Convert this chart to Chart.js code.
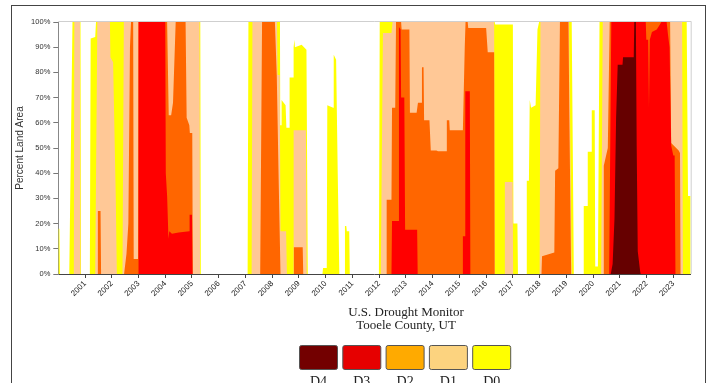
<!DOCTYPE html>
<html>
<head>
<meta charset="utf-8">
<script src="https://cdn.jsdelivr.net/npm/chart.js@4.4.1/dist/chart.umd.min.js"></script>
<style>
  html, body { margin: 0; padding: 0; background: #fff; overflow: hidden; }
  #wrap { position: relative; width: 712px; height: 383px; }
  #frame { position: absolute; left: 11px; top: 5px; width: 695px; height: 420px; box-sizing: border-box; border: 1px solid #444; }
  #chart { position: absolute; left: 0; top: 0; }
</style>
</head>
<body>
<div id="wrap">
  <div id="frame"></div>
  <canvas id="chart" width="712" height="383"></canvas>
</div>
<script>
// cumulative percent of land area, [decimal year, percent]
const d0 = [
  [2000, 18], [2000.04, 18], [2000.06, 0],
  [2000.41, 0], [2000.53, 100], [2000.83, 100], [2000.85, 0],
  [2001.18, 0], [2001.21, 93.5], [2001.38, 94], [2001.41, 100], [2005.31, 100], [2005.33, 0],
  [2007.08, 0], [2007.11, 100], [2008.29, 100], [2008.3, 59], [2008.34, 59], [2008.35, 69], [2008.5, 67],
  [2008.53, 58], [2008.63, 58], [2008.65, 78], [2008.78, 78], [2008.8, 90], [2008.83, 93], [2008.85, 90],
  [2009.1, 91], [2009.28, 89], [2009.33, 0],
  [2009.88, 0], [2009.9, 2.4], [2010.04, 2.4], [2010.06, 67], [2010.28, 66], [2010.3, 87], [2010.39, 85],
  [2010.45, 40], [2010.51, 0],
  [2010.71, 0], [2010.72, 19], [2010.77, 19], [2010.79, 17], [2010.88, 17], [2010.9, 0],
  [2011.99, 0], [2012.02, 100], [2016.32, 100], [2016.34, 99], [2017.0, 99], [2017.02, 20], [2017.17, 20], [2017.19, 0],
  [2017.5, 0], [2017.52, 37], [2017.6, 37], [2017.63, 69], [2017.68, 66], [2017.85, 67], [2017.92, 97],
  [2017.98, 100], [2019.2, 100], [2019.28, 0],
  [2019.64, 0], [2019.65, 27], [2019.78, 27], [2019.8, 48.5], [2019.93, 48.5], [2019.95, 65], [2020.06, 65],
  [2020.08, 3], [2020.18, 3], [2020.24, 100], [2023.5, 100], [2023.55, 31], [2023.65, 31]
];
const d1 = [
  [2000, 0], [2000.58, 0], [2000.6, 100], [2000.81, 100], [2000.83, 0],
  [2001.38, 0], [2001.46, 100], [2001.93, 100], [2001.95, 86], [2002.05, 84], [2002.15, 30], [2002.19, 0],
  [2002.4, 0], [2002.45, 100], [2005.28, 100], [2005.3, 0],
  [2007.23, 0], [2007.26, 100], [2008.18, 100], [2008.2, 79], [2008.28, 79], [2008.31, 17], [2008.52, 17],
  [2008.55, 0], [2008.78, 0], [2008.8, 57], [2009.26, 57], [2009.29, 0],
  [2012.06, 0], [2012.14, 95.6], [2012.46, 95.6], [2012.5, 100], [2016.3, 100], [2016.32, 0],
  [2016.68, 0], [2016.7, 36.5], [2016.99, 36.5], [2017.01, 0],
  [2018.0, 0], [2018.03, 100], [2019.1, 100], [2019.2, 0],
  [2020.3, 0], [2020.36, 100], [2023.33, 100], [2023.36, 0], [2023.65, 0]
];
const d2 = [
  [2000, 0], [2001.46, 0], [2001.48, 25], [2001.58, 25], [2001.6, 0],
  [2002.46, 0], [2002.55, 8], [2002.62, 20], [2002.68, 90], [2002.72, 100], [2002.8, 100], [2002.82, 6],
  [2002.98, 6], [2003.0, 100], [2004.07, 100], [2004.13, 63], [2004.22, 63], [2004.29, 68], [2004.39, 100],
  [2004.76, 100], [2004.8, 62], [2004.9, 59], [2004.92, 56], [2005.01, 56], [2005.03, 0],
  [2007.55, 0], [2007.62, 100], [2008.1, 100], [2008.17, 79], [2008.24, 38], [2008.31, 0],
  [2008.8, 0], [2008.81, 10.6], [2009.14, 10.6], [2009.16, 0],
  [2012.26, 0], [2012.28, 29.5], [2012.46, 29.5], [2012.48, 66], [2012.6, 66], [2012.63, 100], [2012.82, 100],
  [2012.84, 97], [2013.13, 97], [2013.15, 64], [2013.4, 64], [2013.45, 68], [2013.58, 68], [2013.6, 82],
  [2013.66, 82], [2013.68, 61], [2013.88, 61], [2013.93, 49], [2014.14, 49], [2014.2, 48.7], [2014.51, 48.7],
  [2014.53, 61], [2014.62, 61], [2014.64, 57], [2015.13, 57], [2015.2, 90], [2015.23, 100], [2015.31, 100],
  [2015.33, 97.6], [2016.0, 97.6], [2016.06, 88], [2016.3, 88], [2016.32, 0],
  [2018.07, 0], [2018.09, 7], [2018.55, 8.5], [2018.58, 41], [2018.7, 42], [2018.76, 100], [2019.08, 100],
  [2019.11, 65], [2019.18, 0],
  [2020.38, 0], [2020.4, 43], [2020.55, 50], [2020.62, 100], [2022.88, 100], [2022.92, 52], [2023.2, 49],
  [2023.25, 48], [2023.27, 0], [2023.65, 0]
];
const d3 = [
  [2000, 0], [2002.99, 0], [2003.0, 100], [2004.0, 100], [2004.02, 40], [2004.07, 31], [2004.12, 14],
  [2004.15, 17], [2004.25, 16], [2004.5, 16.5], [2004.9, 17], [2004.91, 23.5], [2005.0, 23.5], [2005.02, 0],
  [2012.46, 0], [2012.48, 21], [2012.72, 21], [2012.74, 98], [2012.8, 97], [2012.82, 70], [2012.94, 70],
  [2012.97, 17.6], [2013.42, 17.6], [2013.44, 0],
  [2015.12, 0], [2015.13, 15], [2015.21, 15], [2015.22, 72.5], [2015.39, 72.5], [2015.41, 0],
  [2020.6, 0], [2020.68, 100], [2021.97, 100], [2021.99, 93], [2022.06, 93], [2022.09, 66], [2022.12, 93],
  [2022.2, 96], [2022.38, 97], [2022.5, 99], [2022.55, 100], [2022.75, 100], [2022.8, 95], [2022.86, 90],
  [2022.92, 51], [2023.0, 47], [2023.05, 47], [2023.08, 0], [2023.65, 0]
];
const d4 = [
  [2000, 0], [2020.66, 0], [2020.73, 4], [2020.8, 22], [2020.86, 62], [2020.92, 83], [2021.1, 83],
  [2021.12, 86], [2021.52, 86], [2021.54, 100], [2021.6, 100], [2021.63, 51], [2021.67, 9], [2021.76, 1],
  [2021.78, 0], [2023.65, 0]
];

const yearTicks = [2001, 2002, 2003, 2004, 2005, 2006, 2007, 2008, 2009, 2010, 2011, 2012,
                   2013, 2014, 2015, 2016, 2017, 2018, 2019, 2020, 2021, 2022, 2023];
const levels = ['D4', 'D3', 'D2', 'D1', 'D0'];
const titleLines = ['U.S. Drought Monitor', 'Tooele County, UT'];

const areaColors = ['#660000', '#ff0000', '#ff6600', '#ffc896', '#ffff00'];
const legendColors = ['#730000', '#e60000', '#ffaa00', '#fcd37f', '#ffff00'];

const series = [d4, d3, d2, d1, d0];

// frame lines + title + legend boxes
const decorations = {
  id: 'decorations',
  beforeDatasetsDraw(chart) {
    const { ctx, chartArea: a } = chart;
    ctx.save();
    ctx.strokeStyle = '#cfcfcf';
    ctx.lineWidth = 1;
    ctx.beginPath();
    ctx.moveTo(a.left, a.top - 0.5);
    ctx.lineTo(a.right + 0.5, a.top - 0.5);
    ctx.lineTo(a.right + 0.5, a.bottom);
    ctx.stroke();
    ctx.restore();
  },
  afterDraw(chart) {
    const ctx = chart.ctx;
    ctx.save();
    ctx.fillStyle = '#222';
    ctx.font = '13px "Liberation Serif", "Times New Roman", serif';
    ctx.textAlign = 'center';
    ctx.textBaseline = 'alphabetic';
    ctx.fillText(titleLines[0], 406, 316);
    ctx.fillText(titleLines[1], 406, 329);

    ctx.font = '14px "Liberation Serif", "Times New Roman", serif';
    levels.forEach((lv, i) => {
      const x = 299.5 + i * 43.3;
      ctx.beginPath();
      ctx.roundRect(x, 345.5, 38, 24, 2);
      ctx.fillStyle = legendColors[i];
      ctx.fill();
      ctx.strokeStyle = '#555';
      ctx.lineWidth = 1;
      ctx.stroke();
      ctx.fillStyle = '#222';
      ctx.fillText(lv, x + 19, 386);
    });
    ctx.restore();
  }
};

new Chart(document.getElementById('chart'), {
  type: 'line',
  data: {
    datasets: series.map((s, i) => ({
      label: levels[i],
      data: s.map(p => ({ x: p[0], y: p[1] })),
      backgroundColor: areaColors[i],
      borderColor: areaColors[i],
      borderWidth: 0,
      pointRadius: 0,
      fill: 'origin',
      tension: 0
    }))
  },
  options: {
    responsive: false,
    animation: false,
    layout: { padding: { left: 10, top: 22, right: 21.3, bottom: 0 } },
    plugins: { legend: { display: false }, tooltip: { enabled: false } },
    scales: {
      x: {
        type: 'linear',
        min: 2000,
        max: 2023.65,
        afterBuildTicks: (axis) => { axis.ticks = yearTicks.map(v => ({ value: v })); },
        afterFit: (axis) => { axis.height = 109; },
        grid: { drawOnChartArea: false, drawTicks: true, tickLength: 4, color: '#444' },
        border: { display: true, color: '#444', width: 1 },
        ticks: {
          minRotation: 45, maxRotation: 45, padding: 1,
          color: '#222',
          font: { family: '"Liberation Sans", Arial, sans-serif', size: 8 },
          callback: (v) => String(v)
        }
      },
      y: {
        min: 0,
        max: 100,
        afterFit: (axis) => { axis.width = 48.3; },
        grid: { drawOnChartArea: false, drawTicks: true, tickLength: 5, color: '#777' },
        border: { display: true, color: '#888', width: 1 },
        ticks: {
          stepSize: 10, padding: 3,
          color: '#333',
          font: { family: '"Liberation Sans", Arial, sans-serif', size: 7.5 },
          callback: (v) => v + '%'
        },
        title: {
          display: true,
          text: 'Percent Land Area',
          color: '#333',
          font: { family: '"Liberation Sans", Arial, sans-serif', size: 10 },
          padding: { top: 4, bottom: 0 }
        }
      }
    }
  },
  plugins: [decorations]
});
</script>
</body>
</html>
